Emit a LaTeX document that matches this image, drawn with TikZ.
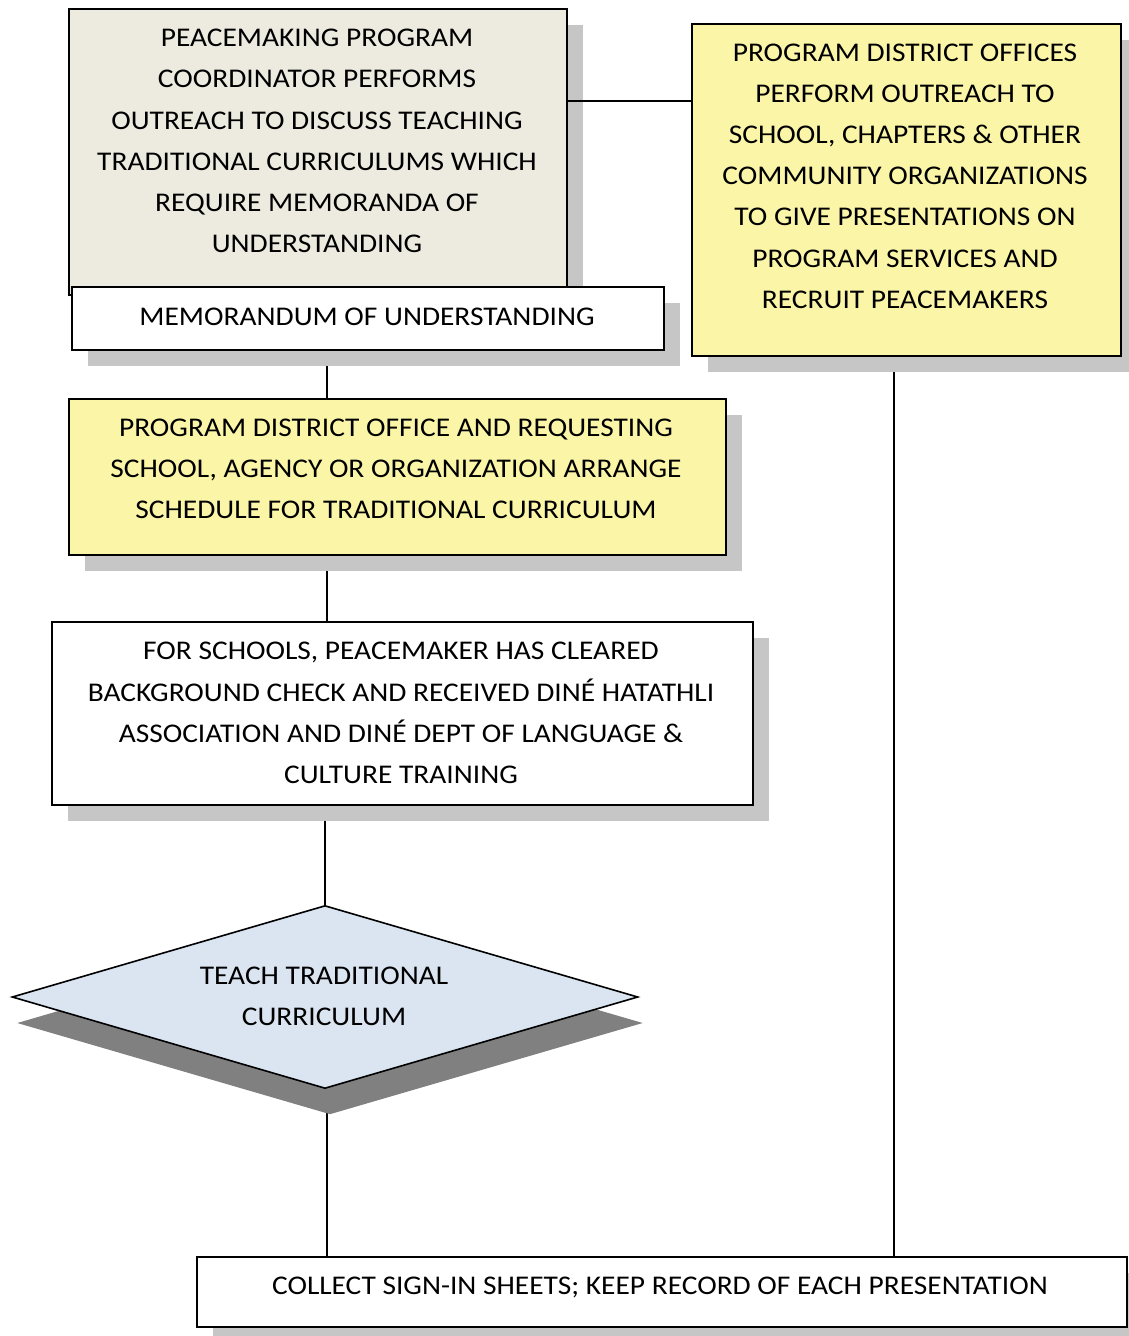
\documentclass[tikz,border=0pt]{standalone}
\usepackage{fontspec}
\setmainfont[FakeStretch=1.09]{Carlito}
\usetikzlibrary{shapes.geometric,shadows}
\definecolor{beige}{HTML}{EDEBE0}
\definecolor{yel}{HTML}{FBF5A8}
\definecolor{blu}{HTML}{DBE5F1}
\definecolor{shd}{HTML}{C6C6C6}
\definecolor{dshd}{HTML}{808080}
\pgfdeclarelayer{background}
\pgfsetlayers{background,main}
\begin{document}
\begin{tikzpicture}[x=1pt,y=-1pt,
  boxshape/.style={draw=black, line width=1.6pt, rectangle, anchor=north west, inner sep=0,
    drop shadow={shadow xshift=16pt, shadow yshift=-16pt, fill=shd, opacity=1}},
  txt/.style={align=center, font=\fontsize{27}{41.2}\selectfont, inner sep=0},
  conn/.style={draw=black, line width=1.3pt}]
\useasboundingbox (0,0) rectangle (1128,1336);
% boxes
\node[boxshape, fill=beige, minimum width=498, minimum height=286] (a) at (68,8) {};
\node[boxshape, fill=yel, minimum width=429, minimum height=332] (r) at (691,23) {};
\node[boxshape, fill=white, minimum width=592, minimum height=63] (m) at (71,286) {};
\node[boxshape, fill=yel, minimum width=657, minimum height=156] (c) at (68,398) {};
\node[boxshape, fill=white, minimum width=701, minimum height=183] (d) at (51,621) {};
\node[draw=black, line width=1.6pt, diamond, fill=blu, inner sep=0, minimum width=626, minimum height=183, aspect=3.42,
  drop shadow={shadow xshift=5pt, shadow yshift=-26pt, fill=dshd, opacity=1}] (t) at (325,997) {};
\node[boxshape, fill=white, minimum width=930, minimum height=70] (b) at (196,1256) {};
% texts
\node[txt] (ta) at (317,141) {PEACEMAKING PROGRAM\\COORDINATOR PERFORMS\\OUTREACH TO DISCUSS TEACHING\\TRADITIONAL CURRICULUMS WHICH\\REQUIRE MEMORANDA OF\\UNDERSTANDING};
\node[txt] (tr) at (905,176) {PROGRAM DISTRICT OFFICES\\PERFORM OUTREACH TO\\SCHOOL, CHAPTERS \& OTHER\\COMMUNITY ORGANIZATIONS\\TO GIVE PRESENTATIONS ON\\PROGRAM SERVICES AND\\RECRUIT PEACEMAKERS};
\node[txt] (tm) at (367,317) {MEMORANDUM OF UNDERSTANDING};
\node[txt] (tc) at (396,469) {PROGRAM DISTRICT OFFICE AND REQUESTING\\SCHOOL, AGENCY OR ORGANIZATION ARRANGE\\SCHEDULE FOR TRADITIONAL CURRICULUM};
\node[txt] (td) at (401,713) {FOR SCHOOLS, PEACEMAKER HAS CLEARED\\BACKGROUND CHECK AND RECEIVED DINÉ HATATHLI\\ASSOCIATION AND DINÉ DEPT OF LANGUAGE \&\\CULTURE TRAINING};
\node[txt] (tt) at (324,996) {TEACH TRADITIONAL\\CURRICULUM};
\node[txt] (tb) at (660,1287) {COLLECT SIGN-IN SHEETS; KEEP RECORD OF EACH PRESENTATION};
% connectors
\draw[conn] (a.east |- 0,101) -- (r.west |- 0,101);
\begin{pgfonlayer}{background}
\draw[conn] (m.south -| 327,0) -- (c.north -| 327,0);
\draw[conn] (c.south -| 327,0) -- (d.north -| 327,0);
\draw[conn] (d.south -| 325,0) -- (t.north);
\draw[conn] (t.south -| 327,0) -- (b.north -| 327,0);
\draw[conn] (r.south -| 894,0) -- (b.north -| 894,0);
\end{pgfonlayer}
\end{tikzpicture}
\end{document}
